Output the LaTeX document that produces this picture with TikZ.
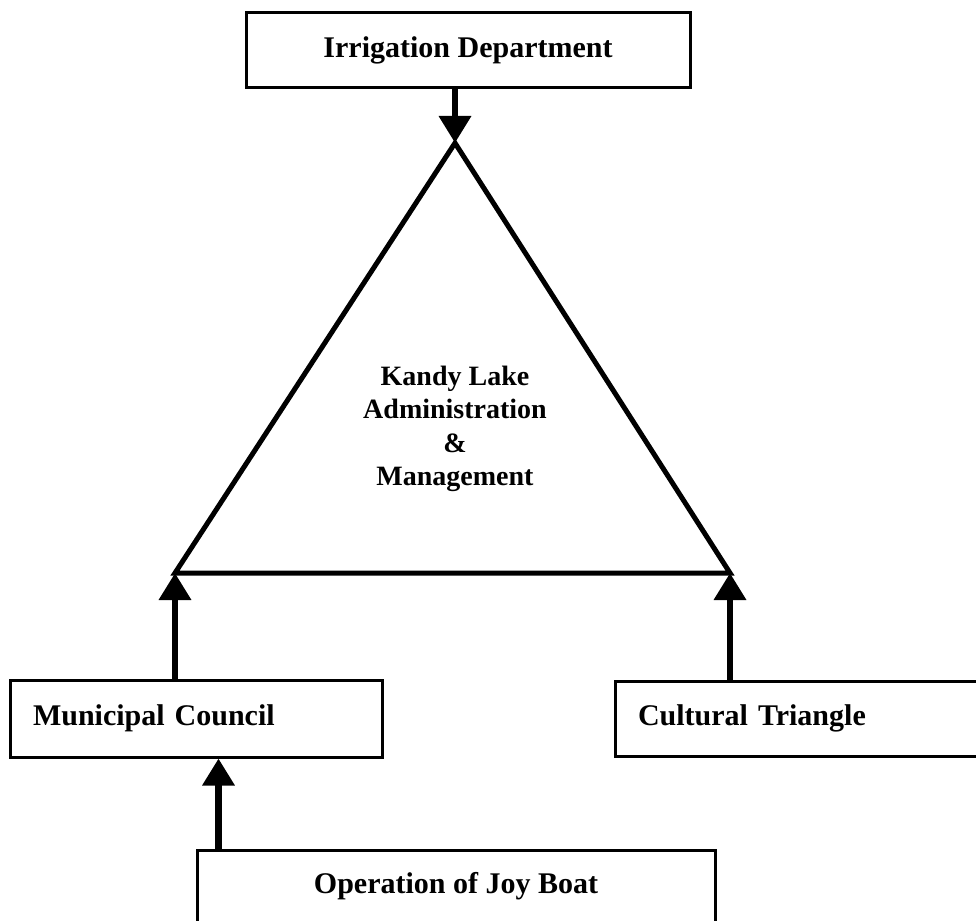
\documentclass[tikz,border=0pt]{standalone}
\usepackage{fontspec}
\setmainfont{Liberation Serif}
\usetikzlibrary{positioning,arrows.meta}
\tikzstyle{unit} = [draw, rectangle, line width=3pt, inner xsep=23pt, inner ysep=0pt, font=\bfseries\fontsize{30}{34}\selectfont]
\tikzstyle{link} = [draw, line width=6.5pt, -{Triangle[width=31pt,length=27pt]}]
\tikzstyle{edge} = [draw, line width=5pt, line join=miter]

\begin{document}
\begin{tikzpicture}[x=1pt, y=-1pt]
    \path [use as bounding box, clip] (0,0) rectangle (976,920);

    % Place nodes
    \node [unit, minimum width=444pt, minimum height=75pt] (irrigation) at (468,50.5) {Irrigation Department};
    \node [unit, minimum width=372pt, minimum height=77pt, text width=326pt, align=left] (council) at (196,718.5) {Municipal Council};
    \node [unit, right=230pt of council, minimum width=388pt, minimum height=75pt, text width=342pt, align=left] (cultural) {Cultural Triangle};
    \node [unit, anchor=north, minimum width=518pt, text height=43pt, text depth=60pt] (joyboat) at (456,849) {Operation of Joy Boat};

    % Triangle
    \coordinate (apex) at (455,143);
    \coordinate (left-corner) at (175,573);
    \coordinate (right-corner) at (730,573);
    \path [edge] (apex) -- (left-corner) -- (right-corner) -- cycle;
    \node [align=center, font=\bfseries\fontsize{28}{33.5}\selectfont] (lake) at (455,429) {Kandy Lake\\Administration\\\&\\Management};

    % Draw edges
    \path [link] (irrigation.south -| apex) -- (apex);
    \path [link] (council.north -| left-corner) -- (left-corner);
    \path [link] (cultural.north -| right-corner) -- (right-corner);
    \path [link] ([xshift=23pt]joyboat.north west) -- ([xshift=23pt]joyboat.north west |- council.south);
\end{tikzpicture}
\end{document}
